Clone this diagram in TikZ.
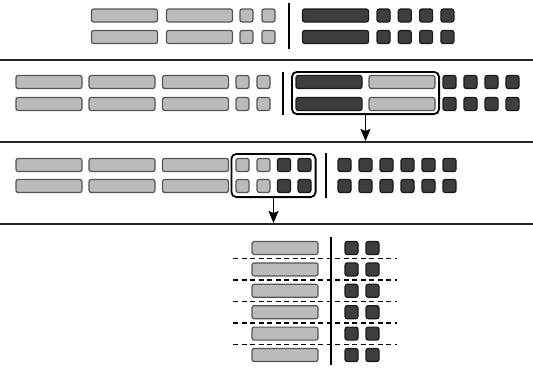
\documentclass[tikz,border=0pt]{standalone}
\usepackage{xcolor}
\usetikzlibrary{fit}
\usetikzlibrary{arrows.meta}

\definecolor{lightcell}{HTML}{BBBBBB}
\definecolor{lightedge}{HTML}{555555}
\definecolor{darkcell}{HTML}{3E3E3E}
\definecolor{darkedge}{HTML}{1A1A1A}
\tikzset{
  cell/.style={rectangle, rounded corners=2.2pt, inner sep=0pt, line width=1.2pt, minimum height=13pt},
  lbar/.style={cell, fill=lightcell, draw=lightedge, minimum width=66pt},
  lsq/.style={cell, fill=lightcell, draw=lightedge, minimum width=13pt},
  dbar/.style={cell, fill=darkcell, draw=darkedge, minimum width=66pt},
  dsq/.style={cell, fill=darkcell, draw=darkedge, minimum width=13pt},
  group/.style={draw=black, rounded corners=5pt, line width=1.8pt},
  divider/.style={line width=2pt, black},
  rule/.style={line width=2pt, black!85},
  push/.style={line width=1.6pt, -{Stealth[length=12pt, width=10pt, inset=2pt]}},
}

\begin{document}
\begin{tikzpicture}[x=1pt, y=-1pt]
\useasboundingbox (0,0) rectangle (533,367);

% first stage
\foreach \r/\y in {a/15.5, b/37} {
  \node[lbar] (s1\r-b1) at (124.5,\y) {};
  \node[lbar] (s1\r-b2) at (199.5,\y) {};
  \foreach \i/\x in {1/246.5, 2/268.5} \node[lsq] (s1\r-l\i) at (\x,\y) {};
  \node[dbar] (s1\r-d) at (335.5,\y) {};
  \foreach \i in {0,...,3} \node[dsq] (s1\r-s\i) at ({383.5+21.3*\i},\y) {};
}
\draw[divider] (289,3) -- (289,49);

% second stage
\draw[rule] (0,60) -- (533,60);
\foreach \r/\y in {a/82, b/104} {
  \foreach \i/\x in {1/49, 2/122, 3/195.5} \node[lbar] (s2\r-b\i) at (\x,\y) {};
  \foreach \i/\x in {1/242.5, 2/263.5} \node[lsq] (s2\r-l\i) at (\x,\y) {};
  \node[dbar] (s2\r-d) at (329,\y) {};
  \node[lbar] (s2\r-m) at (402,\y) {};
  \foreach \i in {0,...,3} \node[dsq] (s2\r-s\i) at ({449.5+21*\i},\y) {};
}
\draw[divider] (283,72) -- (283,115);
\node[group, fit=(s2a-d)(s2b-m), inner xsep=3.5pt, inner ysep=3pt] (grp2) {};
\coordinate (rule2) at (0,141);
\draw[push] (grp2.south) -- (grp2.south |- rule2);

% third stage
\draw[rule] (0,142) -- (533,142);
\foreach \r/\y in {a/165, b/186} {
  \foreach \i/\x in {1/49, 2/122, 3/195.5} \node[lbar] (s3\r-b\i) at (\x,\y) {};
  \foreach \i/\x in {1/242.5, 2/263.5} \node[lsq] (s3\r-l\i) at (\x,\y) {};
  \foreach \i/\x in {1/284, 2/304.5} \node[dsq] (s3\r-d\i) at (\x,\y) {};
  \foreach \i in {0,...,5} \node[dsq] (s3\r-s\i) at ({344.5+21*\i},\y) {};
}
\draw[divider] (326,153) -- (326,198);
\node[group, fit=(s3a-l1)(s3b-d2), inner sep=4pt] (grp3) {};
\coordinate (rule3) at (0,223);
\draw[push] (grp3.south) -- (grp3.south |- rule3);

% last stage
\draw[rule] (0,224) -- (533,224);
\foreach \y in {258.5, 280, 301.5, 323, 344.5}
  \draw[line width=1.5pt, dash pattern=on 5pt off 3.5pt] (233,\y) -- (397,\y);
\foreach \i in {0,...,5} {
  \node[lbar] (s4-b\i) at (285,{248+21.4*\i}) {};
  \node[dsq] (s4-p\i) at (351.5,{248+21.4*\i}) {};
  \node[dsq] (s4-q\i) at (372.5,{248+21.4*\i}) {};
}
\draw[divider] (331,237) -- (331,365);
\end{tikzpicture}
\end{document}
